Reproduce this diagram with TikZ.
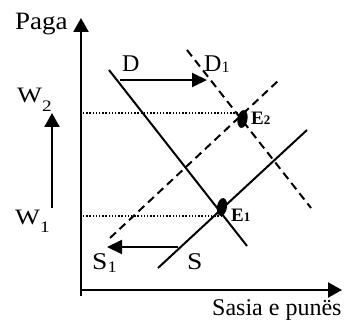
\documentclass[tikz,border=0pt]{standalone}
\usepackage{fontspec}
\setmainfont{Liberation Serif}
\usetikzlibrary{arrows.meta,shapes.geometric}
\newcommand{\bigf}{\fontsize{24}{24}\selectfont}
\newcommand{\pagaf}{\fontsize{25}{25}\selectfont}
\newcommand{\labf}{\fontsize{22}{22}\selectfont}
\newcommand{\subf}{\fontsize{16}{16}\selectfont}
\newcommand{\ef}{\fontsize{19}{19}\selectfont\bfseries}
\newcommand{\esub}{\fontsize{13}{13}\selectfont\bfseries}
\begin{document}
\begin{tikzpicture}[x=1pt,y=-1pt,
  txt/.style={inner sep=0pt,anchor=base west},
  axis/.style={line width=2.3pt,-{Triangle[length=14pt,width=15pt]}},
  shiftarrow/.style={line width=2pt,-{Triangle[length=15pt,width=14pt]}},
  curve/.style={line width=2pt},
  dcurve/.style={line width=2pt,dash pattern=on 8pt off 5pt},
  guide/.style={line width=1.3pt,dash pattern=on 1.3pt off 1.9pt},
  dot/.style={ellipse,fill=black,inner sep=0pt,minimum width=10pt,minimum height=18pt}]
\useasboundingbox (0,0) rectangle (348,320);
% axes
\coordinate (o) at (81,290);
\coordinate (ybot) at (81,296);
\coordinate (ytop) at (81,18);
\coordinate (xend) at (342,290);
\draw[axis] (ybot) -- (ytop);
\draw[axis] (o) -- (xend);
\node[txt,font=\pagaf,xscale=1.08] (paga) at (15,30) {Paga};
\node[txt,font=\bigf] (sasia) at (212,316) {Sasia e punës};
% wage arrow
\coordinate (wlo) at (52,208);
\coordinate (whi) at (52,113);
\draw[axis] (wlo) -- (whi);
\node[txt,font=\labf,xscale=1.2] (w2) at (17,103) {W\raisebox{-9pt}{\subf 2}};
\node[txt,font=\labf,xscale=1.2] (w1) at (15,225) {W\raisebox{-8pt}{\subf 1}};
% equilibrium dots
\node[dot,rotate=-10] (E2) at (242.5,119) {};
\node[dot,rotate=-10] (E1) at (222,207) {};
\node[txt,font=\ef] (e2l) at (251,125) {E{\esub 2}};
\node[txt,font=\ef] (e1l) at (231,222) {E{\esub 1}};
% demand curves
\coordinate (d0) at (109,70);
\coordinate (d1) at (247,246);
\draw[curve] (d0) -- (d1);
\coordinate (dd0) at (187,50);
\coordinate (dd1) at (311,208);
\draw[dcurve] (dd0) -- (dd1);
% supply curves
\coordinate (s0) at (158,268);
\coordinate (s1) at (307,130);
\draw[curve] (s0) -- (s1);
\coordinate (ss0) at (110,238);
\coordinate (ss1) at (279,80);
\draw[dcurve] (ss0) -- (ss1);
% guides
\coordinate (g2) at (83,113);
\coordinate (g1) at (83,216);
\draw[guide] (g2) -- (g2 -| E2.west);
\draw[guide] (g1) -- (g1 -| E1.center);
% shift arrows
\coordinate (da) at (120,80);
\coordinate (db) at (207,80);
\draw[shiftarrow] (da) -- (db);
\coordinate (sa) at (178,247);
\coordinate (sb) at (107,247);
\draw[shiftarrow] (sa) -- (sb);
% curve labels
\node[txt,font=\bigf] (dl) at (122,72) {D};
\node[txt,font=\bigf] (d1l) at (204,72) {D\raisebox{-1pt}{\subf 1}};
\node[txt,font=\bigf,xscale=1.15] (sl) at (187,270) {S};
\node[txt,font=\bigf,xscale=1.15] (s1l) at (92,270) {S\raisebox{-2pt}{\subf 1}};
\end{tikzpicture}
\end{document}
